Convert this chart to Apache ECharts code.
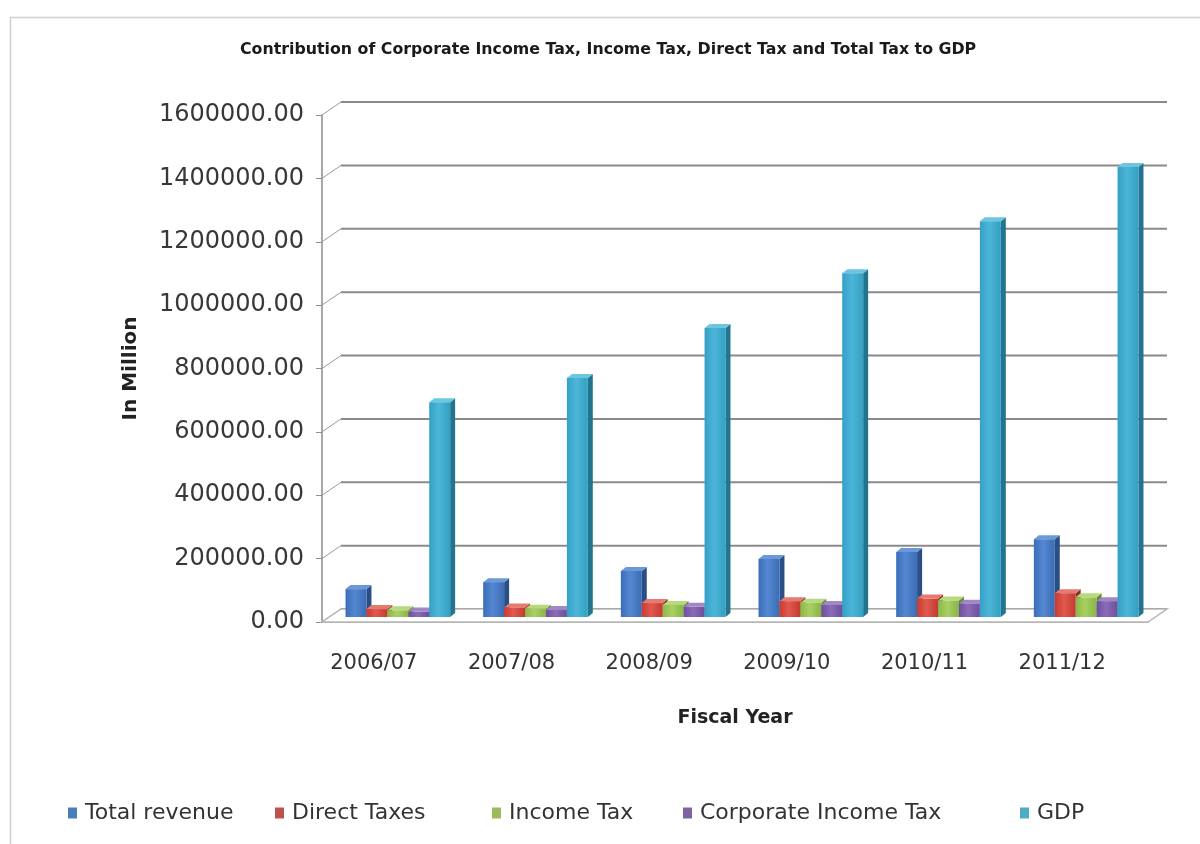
<!DOCTYPE html>
<html>
<head>
<meta charset="utf-8">
<script src="https://cdn.jsdelivr.net/npm/echarts@6/dist/echarts.min.js"></script>
<style>
  html, body { margin: 0; padding: 0; background: #fff; }
  #chart { width: 1200px; height: 844px; }
</style>
</head>
<body>
<div id="chart"></div>
<script>
// Fiscal years and figures (in million)
const categories = ['2006/07', '2007/08', '2008/09', '2009/10', '2010/11', '2011/12'];
const totalRevenue = [88000, 110000, 145000, 183000, 205000, 245000];
const directTaxes = [25000, 30000, 44000, 50000, 58000, 75000];
const incomeTax = [21000, 26000, 38000, 45000, 52000, 62000];
const corporateIncomeTax = [17000, 22000, 32000, 38000, 42000, 50000];
const gdp = [678000, 754000, 912000, 1085000, 1249000, 1420000];
const yTicks = [0, 200000, 400000, 600000, 800000, 1000000, 1200000, 1400000, 1600000];

// pseudo-3D projection offsets
const WALL_DX = 19, WALL_DY = -13;   // floor depth (front edge -> back wall)
const BAR_DX = 7, BAR_DY = -5;       // bars sit a little behind the front edge
const SIDE_DX = 5, SIDE_DY = -4;     // bar depth
const GROUP_FILL = 0.76;

const palette = [
  { name: 'Total revenue', legend: '#4a7ebb', front: ['#3a6cb8', '#5588d2', '#3b6cb3'], side: '#2a4f86', top: '#6a98d8' },
  { name: 'Direct Taxes', legend: '#c0504d', front: ['#c93a32', '#e05a4f', '#c23a33'], side: '#932b25', top: '#e77a70' },
  { name: 'Income Tax', legend: '#9bbb59', front: ['#8cb847', '#a8d063', '#8ab446'], side: '#698a34', top: '#b6d97c' },
  { name: 'Corporate Income Tax', legend: '#8064a2', front: ['#6e4f9e', '#8a6cb8', '#6d4f9a'], side: '#4f3873', top: '#a088c6' },
  { name: 'GDP', legend: '#4bacc6', front: ['#34a0c6', '#4cb6d8', '#33a0c2'], side: '#23758f', top: '#6cc6e0' }
];
const seriesValues = [totalRevenue, directTaxes, incomeTax, corporateIncomeTax, gdp];
// legend entries are spaced in even columns
const legendLefts = [63, 270, 487, 678, 1015];

function barRenderer(slot, p) {
  return function (params, api) {
    const ci = api.value(0);
    const v = api.value(1);
    const base = api.coord([ci, 0]);
    const top = api.coord([ci, v]);
    const band = api.size([1, 0])[0];
    const w = band * GROUP_FILL / 5;
    const x = base[0] - 2.5 * w + slot * w + BAR_DX;
    const yb = base[1] + BAR_DY;
    const yt = top[1] + BAR_DY;
    return {
      type: 'group',
      children: [
        {
          type: 'polygon',
          shape: { points: [[x + w, yt], [x + w + SIDE_DX, yt + SIDE_DY], [x + w + SIDE_DX, yb + SIDE_DY], [x + w, yb]] },
          style: { fill: p.side }
        },
        {
          type: 'polygon',
          shape: { points: [[x, yt], [x + SIDE_DX, yt + SIDE_DY], [x + w + SIDE_DX, yt + SIDE_DY], [x + w, yt]] },
          style: { fill: p.top }
        },
        {
          type: 'rect',
          shape: { x: x, y: yt, width: w, height: yb - yt },
          style: {
            fill: {
              type: 'linear', x: 0, y: 0, x2: 1, y2: 0,
              colorStops: [
                { offset: 0, color: p.front[0] },
                { offset: 0.45, color: p.front[1] },
                { offset: 1, color: p.front[2] }
              ]
            }
          }
        }
      ]
    };
  };
}

// back wall gridlines with the slanted side-wall ticks
function gridRenderer(params, api) {
  const cs = params.coordSys;
  const y = api.coord([0, api.value(1)])[1];
  const x0 = cs.x, x1 = cs.x + cs.width;
  return {
    type: 'group',
    children: [
      { type: 'line', shape: { x1: x0, y1: y, x2: x0 + WALL_DX, y2: y + WALL_DY }, style: { stroke: '#9a9a9a', lineWidth: 1 } },
      { type: 'line', shape: { x1: x0 + WALL_DX, y1: y + WALL_DY, x2: x1 + WALL_DX, y2: y + WALL_DY }, style: { stroke: '#8a8a8a', lineWidth: 2 } }
    ]
  };
}

// floor parallelogram
function floorRenderer(params, api) {
  const cs = params.coordSys;
  const y = api.coord([0, 0])[1];
  const x0 = cs.x, x1 = cs.x + cs.width;
  return {
    type: 'polygon',
    shape: { points: [[x0, y], [x1, y], [x1 + WALL_DX, y + WALL_DY], [x0 + WALL_DX, y + WALL_DY]] },
    style: { fill: '#ffffff', stroke: '#b5b5b5', lineWidth: 1.5 }
  };
}

const series = [
  {
    type: 'custom', name: 'grid', silent: true, z: 1,
    renderItem: gridRenderer,
    data: yTicks.map(v => [0, v]),
    encode: { x: 0, y: 1 }
  },
  {
    type: 'custom', name: 'floor', silent: true, z: 2,
    renderItem: floorRenderer,
    data: [[0, 0]],
    encode: { x: 0, y: 1 }
  }
];
palette.forEach((p, i) => {
  series.push({
    type: 'custom',
    name: p.name,
    z: 3,
    itemStyle: { color: p.legend },
    renderItem: barRenderer(i, p),
    data: seriesValues[i].map((v, ci) => [ci, v]),
    encode: { x: 0, y: 1 }
  });
});

const legends = palette.map((p, i) => ({
  data: [p.name],
  left: legendLefts[i],
  top: 797,
  icon: 'rect',
  itemWidth: 9,
  itemHeight: 11,
  textStyle: { fontFamily: 'DejaVu Sans', fontSize: 22, color: '#333', padding: [0, 0, 0, 3] }
}));

const chart = echarts.init(document.getElementById('chart'));
chart.setOption({
  backgroundColor: '#ffffff',
  animation: false,
  title: {
    text: 'Contribution of Corporate Income Tax, Income Tax, Direct Tax and Total Tax to GDP',
    left: 235,
    top: 37,
    textStyle: { fontFamily: 'DejaVu Sans', fontWeight: 'bold', fontSize: 15.8, color: '#1a1a1a' }
  },
  graphic: [
    { type: 'rect', left: 8, top: 15, shape: { width: 1200, height: 840 }, style: { fill: 'none', stroke: '#cfcfcf', lineWidth: 1.5 }, z: -10 }
  ],
  legend: legends,
  grid: { left: 322, right: 52, top: 115, bottom: 222 },
  xAxis: {
    type: 'category',
    data: categories,
    boundaryGap: true,
    axisLine: { show: true, lineStyle: { color: '#a8a8a8', width: 1.5 } },
    axisTick: { show: false },
    axisLabel: { fontFamily: 'DejaVu Sans', fontSize: 21, color: '#333', margin: 31, padding: [0, 34, 0, 0] },
    name: 'Fiscal Year',
    nameLocation: 'middle',
    nameGap: 87,
    nameTextStyle: { fontFamily: 'DejaVu Sans', fontWeight: 'bold', fontSize: 19, color: '#222' }
  },
  yAxis: {
    type: 'value',
    min: 0,
    max: 1600000,
    interval: 200000,
    axisLine: { show: true, lineStyle: { color: '#8c8c8c', width: 1.5 } },
    axisTick: { show: true, length: 6, lineStyle: { color: '#8c8c8c' } },
    splitLine: { show: false },
    axisLabel: {
      fontFamily: 'DejaVu Sans', fontSize: 24, color: '#383838', margin: 18,
      formatter: v => v.toFixed(2)
    },
    name: 'In Million',
    nameLocation: 'middle',
    nameGap: 181,
    nameTextStyle: { fontFamily: 'DejaVu Sans', fontWeight: 'bold', fontSize: 20, color: '#222' }
  },
  series: series
});
</script>
</body>
</html>
